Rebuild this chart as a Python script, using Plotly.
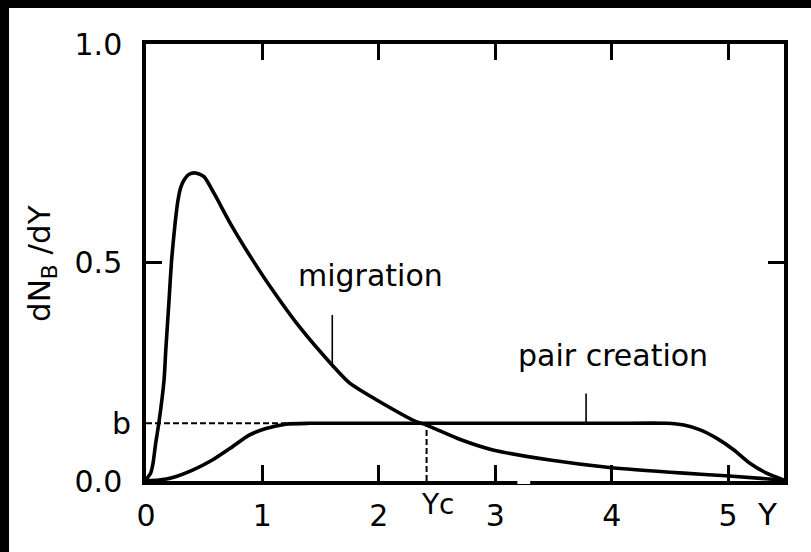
import numpy as np
import plotly.graph_objects as go

# Rapidity distributions dN_B/dY
migration_y = [0, 0.01, 0.04, 0.06, 0.083, 0.11, 0.155, 0.17, 0.198, 0.22, 0.25,
               0.275, 0.30, 0.327, 0.37, 0.428, 0.50, 0.585, 0.74, 0.915, 1.087,
               1.317, 1.60, 1.75, 2.03, 2.32, 2.41, 2.70, 2.98, 3.47, 3.98, 4.62,
               4.98, 5.48]
migration_val = [0, 0.006, 0.018, 0.04, 0.086, 0.132, 0.231, 0.30, 0.414, 0.506, 0.59,
                 0.643, 0.673, 0.689, 0.702, 0.705, 0.696, 0.658, 0.582, 0.506, 0.437,
                 0.353, 0.265, 0.224, 0.178, 0.136, 0.128, 0.095, 0.071, 0.048, 0.031, 0.018,
                 0.012, 0.002]

pair_y = [0, 0.11, 0.23, 0.40, 0.57, 0.74, 0.886, 1.03, 1.20, 1.40, 2.0, 3.0, 4.0,
          4.47, 4.62, 4.76, 4.90, 5.05, 5.19, 5.33, 5.48]
pair_val = [0, 0.002, 0.008, 0.025, 0.048, 0.078, 0.105, 0.12, 0.130, 0.132, 0.132,
            0.132, 0.132, 0.132, 0.128, 0.117, 0.098, 0.071, 0.040, 0.018, 0.002]

b_level = 0.132
y_c = 2.41
y_max = 5.48

x_ticks = [0, 1, 2, 3, 4, 5]
x_tick_text = ["0", "1", "2", "3", "4", "5"]
y_ticks = [0.0, 0.5, 1.0]
y_tick_text = ["0.0", "0.5", "1.0"]

# label leader lines: (x, y_top, y_bottom)
migration_leader = (1.60, 0.38, 0.262)
pair_leader = (3.78, 0.20, 0.134)

FONT = "DejaVu Sans"
W, H = 811, 552
ML, MR, MT, MB = 146, 27, 44, 71
PW, PH = W - ML - MR, H - MT - MB


def px_x(p):
    return (p - ML) / PW


def px_y(p):
    return (H - MB - p) / PH


fig = go.Figure()

line_style = dict(color="black", width=3.6, shape="spline", smoothing=0.6)
fig.add_trace(go.Scatter(x=migration_y, y=migration_val, mode="lines", line=line_style))
fig.add_trace(go.Scatter(x=pair_y, y=pair_val, mode="lines", line=line_style))

dash_style = dict(color="black", width=2, dash="6px,3px")
fig.add_trace(go.Scatter(x=[0, y_c], y=[b_level, b_level], mode="lines", line=dash_style))
fig.add_trace(go.Scatter(x=[y_c, y_c], y=[0, b_level], mode="lines", line=dash_style))

for lx, ytop, ybot in (migration_leader, pair_leader):
    fig.add_trace(go.Scatter(x=[lx, lx], y=[ytop, ybot], mode="lines",
                             line=dict(color="black", width=1.6)))

axis_common = dict(
    showgrid=False, zeroline=False, showline=True, linecolor="black", linewidth=3.5,
    mirror="ticks", ticks="inside", ticklen=16, tickwidth=2.6, tickcolor="black",
    tickfont=dict(family=FONT, size=30, color="black"),
)

fig.update_layout(
    width=W, height=H,
    margin=dict(l=ML, r=MR, t=MT, b=MB),
    paper_bgcolor="black", plot_bgcolor="white",
    showlegend=False,
    xaxis=dict(range=[0, y_max], tickvals=x_ticks, ticktext=x_tick_text,
               ticklabelstandoff=5, **axis_common),
    yaxis=dict(range=[0, 1], tickvals=y_ticks, ticktext=y_tick_text,
               ticklabelstandoff=14, **axis_common),
)

text_font = dict(family=FONT, size=30, color="black")
annotations = [
    dict(x=1.93, y=0.470, xref="x", yref="y", text="migration", showarrow=False,
         xanchor="center", yanchor="middle", font=text_font),
    dict(x=4.01, y=0.288, xref="x", yref="y", text="pair creation", showarrow=False,
         xanchor="center", yanchor="middle", font=text_font),
    dict(x=px_x(133), y=b_level, xref="paper", yref="y", text="b", showarrow=False,
         xanchor="right", yanchor="middle", font=dict(family=FONT, size=30, color="black")),
    dict(x=y_c, y=px_y(504), xref="x", yref="paper", text="Yc", showarrow=False,
         xanchor="left", yanchor="middle", xshift=-8,
         font=dict(family=FONT, size=28, color="black")),
    dict(x=px_x(766.5), y=px_y(514), xref="paper", yref="paper", text="Y",
         showarrow=False, xanchor="center", yanchor="middle",
         font=dict(family=FONT, size=31, color="black")),
    dict(x=px_x(41), y=px_y(264), xref="paper", yref="paper",
         text="dN<sub>B</sub> /dY", textangle=-90, showarrow=False,
         xanchor="center", yanchor="middle",
         font=dict(family=FONT, size=31, color="black")),
]
fig.update_layout(annotations=annotations)

# white sheet over the dark scan edge (left and top strips stay black),
# plus the small break in the bottom axis line
shapes = [
    dict(type="rect", xref="paper", yref="paper", x0=px_x(9), x1=px_x(W + 5),
         y0=px_y(H + 5), y1=px_y(8), fillcolor="white", line_width=0, layer="below"),
    dict(type="rect", xref="x", yref="paper", x0=3.19, x1=3.30,
         y0=px_y(484), y1=px_y(478), fillcolor="white", line_width=0, layer="above"),
]
fig.update_layout(shapes=shapes)

fig.write_html("out.html")
